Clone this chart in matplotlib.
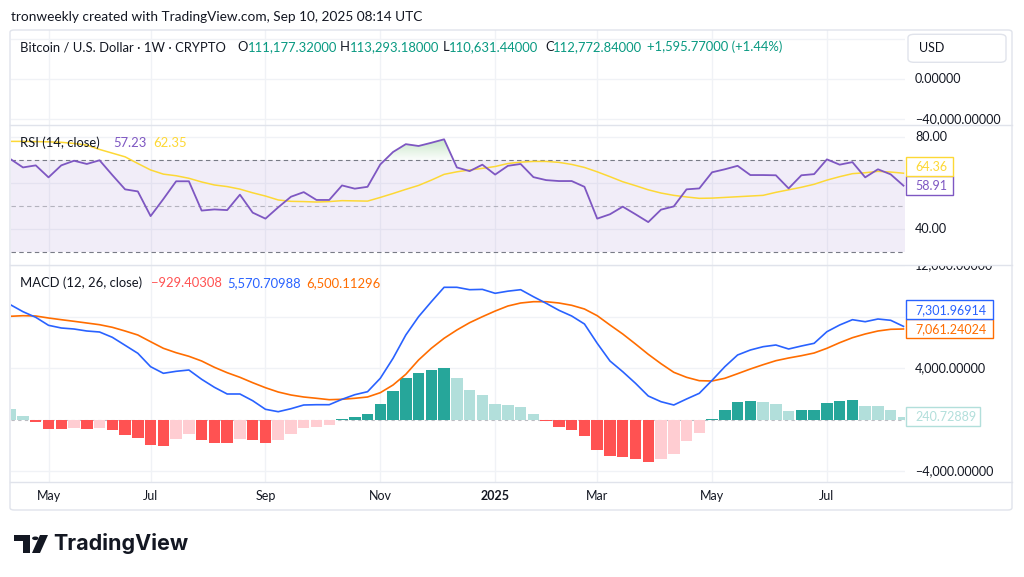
import numpy as np
import matplotlib
matplotlib.use('Agg')
import matplotlib.pyplot as plt
from matplotlib.patches import Rectangle, FancyBboxPatch, Polygon, Circle
from matplotlib.transforms import blended_transform_factory
from matplotlib.path import Path

W, H = 1024, 577
plt.rcParams['font.family'] = ['Lato', 'DejaVu Sans']

# ---------------- data ----------------
months = ['May', 'Jul', 'Sep', 'Nov', '2025', 'Mar', 'May', 'Jul']
month_bar = [3, 11, 20, 29, 38, 46, 55, 64]

rsi = [70.5, 66.8, 67.7, 62.5, 67.7, 69.7, 68.3, 69.9, 63.5, 57.3,
       56.4, 45.7, 53.1, 60.8, 60.8, 48.1, 48.6, 48.3, 55.0, 47.2,
       44.6, 49.5, 54.1, 56.1, 52.7, 52.7, 59.0, 57.6, 58.4, 68.1,
       73.5, 76.9, 76.1, 77.5, 79.0, 66.8, 65.2, 68.0, 63.7, 67.5,
       68.3, 62.6, 61.3, 60.9, 60.9, 58.4, 44.6, 46.5, 49.8, 46.5,
       43.1, 48.5, 49.9, 57.3, 57.7, 64.7, 66.0, 67.5, 63.5, 63.5,
       63.4, 57.7, 63.4, 63.9, 70.3, 68.0, 69.1, 62.5, 66.0, 63.8, 58.9]
rsi_ma = [78.1, 78.1, 78.0, 77.9, 77.7, 77.2, 76.5, 74.6, 73.0, 71.4,
          68.5, 65.7, 63.9, 63.2, 62.1, 60.5, 59.2, 58.5, 57.4, 55.8,
          54.4, 52.7, 52.1, 52.0, 51.8, 52.0, 52.4, 52.3, 52.2, 53.8,
          55.5, 57.3, 59.0, 61.3, 63.8, 64.9, 65.7, 66.4, 67.2, 68.5,
          69.1, 69.4, 69.4, 69.0, 68.1, 66.8, 64.9, 62.8, 60.6, 58.9,
          57.1, 55.7, 54.7, 54.0, 53.4, 53.5, 53.8, 54.1, 54.4, 54.7,
          56.0, 57.1, 58.2, 59.5, 61.3, 62.8, 64.1, 64.5, 65.1, 64.8, 64.3]
macd_line = [8950, 8400, 7963, 7342, 7133, 7055, 6900, 6822, 6410, 5789,
             5167, 4126, 3613, 3768, 3869, 3147, 2525, 2005, 2005, 1484,
             816, 629, 862, 1150, 1173, 1173, 1593, 1950, 2183, 3224,
             4779, 6589, 8011, 9176, 10295, 10295, 10109, 10134, 9829, 9995,
             10109, 9565, 9052, 8508, 8065, 7444, 5944, 4569, 3737, 2836,
             1849, 1406, 1150, 1616, 2059, 3069, 4126, 5035, 5423, 5680,
             5812, 5501, 5734, 5944, 6845, 7366, 7778, 7622, 7832, 7731, 7260]
signal_line = [8042, 8089, 8065, 7910, 7778, 7653, 7521, 7389, 7187, 6900,
               6589, 6068, 5556, 5214, 4934, 4569, 4079, 3660, 3302, 2883,
               2494, 2160, 1927, 1772, 1671, 1562, 1593, 1671, 1772, 2106,
               2704, 3535, 4646, 5556, 6333, 6977, 7545, 8011, 8450, 8842,
               9075, 9176, 9176, 9075, 8897, 8609, 8089, 7366, 6667, 5890,
               5089, 4359, 3691, 3302, 3038, 3015, 3225, 3582, 3947, 4281,
               4592, 4802, 4981, 5190, 5556, 5991, 6379, 6667, 6900, 7032, 7055]
hist = [855, 285, -207, -700, -720, -622, -700, -622, -777, -1191,
        -1425, -1994, -2072, -1528, -1140, -1606, -1787, -1813, -1476, -1606,
        -1839, -1606, -1140, -648, -570, -440, 78, 233, 414, 1191,
        2227, 3212, 3600, 3885, 3989, 3212, 2331, 1943, 1243, 1114,
        958, 440, -104, -570, -829, -1269, -2331, -2849, -2901, -3082,
        -3315, -3030, -2642, -1684, -1062, 78, 777, 1373, 1425, 1373,
        1191, 673, 725, 740, 1321, 1425, 1502, 1088, 1036, 725, 207]

# grid levels, and the scale labels that are visible in the chart
price_grid = [40000, 0, -40000]
price_ticks = [0, -40000]
price_tick_labels = ['0.00000', '\u221240,000.00000']
rsi_grid = [80, 60, 40]
rsi_ticks = [80, 40]
rsi_tick_labels = ['80.00', '40.00']
macd_grid = [12000, 8000, 4000, -4000]
macd_ticks = [12000, 4000, -4000]
macd_tick_labels = ['12,000.00000', '4,000.00000', '\u22124,000.00000']

rsi_last, rsi_ma_last = '58.91', '64.36'
macd_last, signal_last, hist_last = '7,301.96914', '7,061.24024', '240.72889'

title = 'tronweekly created with TradingView.com, Sep 10, 2025 08:14 UTC'
# ---------------- colours ----------------
TXT = '#131722'
GRID = '#F0F2F6'
BORDER = '#E0E3EB'
GREEN = '#089981'
PURPLE = '#7E57C2'
YELLOW = '#FDD835'
BLUE = '#2962FF'
ORANGE = '#FF6D00'
H_UP, H_UP_F = '#26A69A', '#B2DFDB'
H_DN, H_DN_R = '#FF5252', '#FFCDD2'

fig = plt.figure(figsize=(W / 100, H / 100), dpi=100)
fig.patch.set_facecolor('white')


def axes_px(x0, y0, x1, y1):
    return fig.add_axes([x0 / W, 1 - y1 / H, (x1 - x0) / W, (y1 - y0) / H])


def ftext(x, y, s, **kw):
    kw.setdefault('color', TXT)
    kw.setdefault('va', 'center')
    return fig.text(x / W, 1 - y / H, s, **kw)


PL, PR = 11, 905
XLIM = (0.06, 70.12)
x = np.arange(len(rsi))

# frame
fig.add_artist(FancyBboxPatch((10 / W, 1 - 510 / H), 1002 / W, 480 / H,
                              boxstyle='round,pad=0,rounding_size=0.004',
                              transform=fig.transFigure, fc='none', ec=BORDER, lw=1, zorder=0.5))
for yy in (125, 265, 482):
    fig.add_artist(plt.Line2D([10 / W, 1012 / W], [1 - yy / H] * 2, color=BORDER, lw=1,
                              transform=fig.transFigure, zorder=0.6))


def style(ax, ylim, grid):
    ax.set_xlim(*XLIM)
    ax.set_ylim(*ylim)
    for s in ax.spines.values():
        s.set_visible(False)
    ax.set_xticks([])
    ax.set_yticks([])
    ax.patch.set_alpha(0)
    for m in month_bar:
        ax.axvline(m, color=GRID, lw=1, zorder=0)
    for t in grid:
        ax.axhline(t, color=GRID, lw=1, zorder=0)


# ---- price pane ----
ax_p = axes_px(PL, 30, PR, 125)
style(ax_p, (-45700, 49300), price_grid)

# ---- RSI pane ----
ax_r = axes_px(PL, 125, PR, 265)
style(ax_r, (24.5, 85.2), rsi_grid)
ax_r.axhspan(30, 70, color=PURPLE, alpha=0.1, lw=0, zorder=0.5)
for lvl, a in ((70, 1.0), (50, 0.5), (30, 1.0)):
    ax_r.axhline(lvl, color='#787B86', lw=0.8, ls=(0, (4, 3)), alpha=a, zorder=1)
rsi_arr = np.array(rsi)
fb = ax_r.fill_between(x, 70, rsi_arr, where=rsi_arr > 70, interpolate=True,
                       color='none', lw=0)
grad = np.zeros((100, 1, 4))
grad[..., 0], grad[..., 1], grad[..., 2] = 76 / 255, 175 / 255, 80 / 255
grad[:, 0, 3] = np.linspace(0.02, 0.35, 100)
im = ax_r.imshow(grad, extent=[XLIM[0], XLIM[1], 70, 80], origin='lower', aspect='auto', zorder=1.5)
paths = fb.get_paths()
if paths:
    im.set_clip_path(Path.make_compound_path(*paths), transform=ax_r.transData)
ax_r.set_xlim(*XLIM)
ax_r.set_ylim(24.5, 85.2)
ax_r.plot(x, rsi_ma, color=YELLOW, lw=1.1, zorder=2)
ax_r.plot(x, rsi, color=PURPLE, lw=1.3, zorder=3)

# ---- MACD pane ----
ax_m = axes_px(PL, 265, PR, 482)
style(ax_m, (-4833, 12028), macd_grid)
ax_m.axhline(0, color='#787B86', lw=0.8, ls=(0, (3, 3)), alpha=0.5, zorder=0.8)
h = np.array(hist)
prev = np.concatenate([[np.inf], h[:-1]])
cols = np.where(h >= 0, np.where(h > prev, H_UP, H_UP_F), np.where(h < prev, H_DN, H_DN_R))
ax_m.bar(x, h, width=0.9, color=cols, lw=0, zorder=1)
ax_m.plot(x, signal_line, color=ORANGE, lw=1.2, zorder=2)
ax_m.plot(x, macd_line, color=BLUE, lw=1.2, zorder=3)

# ---- right price scales ----
def scale_labels(ax, y0, y1, ticks, labels):
    lab = axes_px(PR, y0, 1011, y1)
    lab.set_ylim(ax.get_ylim())
    lab.set_axis_off()
    tr = blended_transform_factory(fig.transFigure, lab.transData)
    for t, s in zip(ticks, labels):
        lab.text(915 / W, t, s, transform=tr, va='center', ha='left', fontsize=9, color=TXT, clip_on=True)
    return lab

scale_labels(ax_p, 30, 125, price_ticks, price_tick_labels)
scale_labels(ax_r, 125, 265, rsi_ticks, rsi_tick_labels)
scale_labels(ax_m, 265, 482, macd_ticks, macd_tick_labels)


def ypix(ax, v):
    return H - ax.transData.transform((0, v))[1]


def value_box(yc, x1, s, ec, tc):
    fig.add_artist(Rectangle((906 / W, 1 - (yc + 9.5) / H), (x1 - 906) / W, 19 / H,
                             transform=fig.transFigure, fc='white', ec=ec, lw=1, zorder=10))
    ftext(915, yc, s, color=tc, fontsize=9, zorder=11)


y_low = ypix(ax_r, float(rsi_last))
y_up = min(ypix(ax_r, float(rsi_ma_last)), y_low - 19)
value_box(y_low, 953, rsi_last, PURPLE, PURPLE)
value_box(y_up, 953, rsi_ma_last, YELLOW, YELLOW)

y_low = ypix(ax_m, float(signal_last.replace(',', '')))
y_up = min(ypix(ax_m, float(macd_last.replace(',', ''))), y_low - 19)
value_box(y_low, 993, signal_last, ORANGE, ORANGE)
value_box(y_up, 993, macd_last, BLUE, BLUE)
value_box(ypix(ax_m, float(hist_last)), 980, hist_last, H_UP_F, H_UP_F)

# USD box
fig.add_artist(FancyBboxPatch((908 / W, 1 - 62.3 / H), 98 / W, 28 / H,
                              boxstyle='round,pad=0,rounding_size=0.006', transform=fig.transFigure,
                              fc='white', ec=BORDER, lw=1, zorder=10))
ftext(919, 48, 'USD', fontsize=9, zorder=11)

# ---- time axis ----
for m, lab in zip(month_bar, months):
    xp = ax_m.transData.transform((m, 0))[0]
    ftext(xp, 496, lab, ha='center', fontsize=9,
          fontweight='bold' if lab.isdigit() else 'normal')

# ---- header texts ----
ftext(11, 17, title, fontsize=9.8)
segs = [(20, 'Bitcoin / U.S. Dollar \u00b7 1W \u00b7 CRYPTO', TXT), (237, 'O', TXT),
        (248, '111,177.32000', GREEN), (340, 'H', TXT), (350, '113,293.18000', GREEN),
        (443, 'L', TXT), (449, '110,631.44000', GREEN), (545, 'C', TXT),
        (553, '112,772.84000', GREEN), (647, '+1,595.77000 (+1.44%)', GREEN)]
for xp, s, c in segs:
    ftext(xp, 47, s, color=c, fontsize=9.4)
for xp, s, c in [(20, 'RSI (14, close)', TXT), (113, '57.23', PURPLE), (153, '62.35', YELLOW)]:
    ftext(xp, 143, s, color=c, fontsize=9.4)
for xp, s, c in [(20, 'MACD (12, 26, close)', TXT), (151, '\u2212929.40308', H_DN),
                 (227, '5,570.70988', BLUE), (306, '6,500.11296', ORANGE)]:
    ftext(xp, 283, s, color=c, fontsize=9.4)

# ---- logo ----
def px_poly(pts):
    return [(a / W, 1 - b / H) for a, b in pts]

fig.add_artist(Polygon(px_poly([(14, 535), (30, 535), (30, 553), (23, 553), (23, 541), (14, 541)]),
                       closed=True, transform=fig.transFigure, fc=TXT, ec='none'))
fig.add_artist(Polygon(px_poly([(40, 535), (48, 535), (40, 553), (32, 553)]),
                       closed=True, transform=fig.transFigure, fc=TXT, ec='none'))
fig.add_artist(Circle((35.3 / W, 1 - 538.3 / H), 3.2 / W, transform=fig.transFigure, fc=TXT, ec='none'))
ftext(53, 544, 'TradingView', fontsize=15.5, fontweight='bold', family=['Inter', 'DejaVu Sans'])

fig.savefig('out.png', dpi=100, facecolor='white')
